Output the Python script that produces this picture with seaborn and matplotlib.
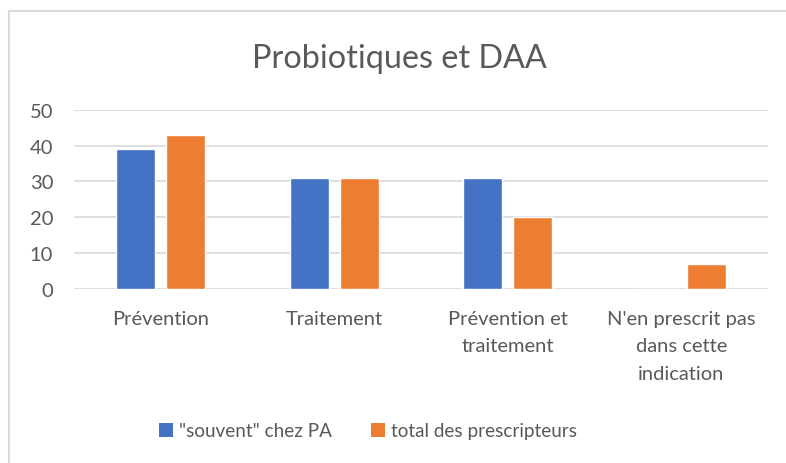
import matplotlib
matplotlib.use("Agg")
import matplotlib.pyplot as plt
from matplotlib.lines import Line2D
from matplotlib.patches import Patch
import seaborn as sns
import pandas as pd

categories = [
    "Prévention",
    "Traitement",
    "Prévention et\ntraitement",
    "N'en prescrit pas\ndans cette\nindication",
]
series_names = ['"souvent" chez PA', "total des prescripteurs"]
souvent_pa = [39, 31, 31, 0]
total_prescripteurs = [43, 31, 20, 7]
y_ticks = [0, 10, 20, 30, 40, 50]
colors = ["#4472C4", "#ED7D31"]
title = "Probiotiques et DAA"

df = pd.DataFrame({
    "categorie": categories * 2,
    "serie": [series_names[0]] * 4 + [series_names[1]] * 4,
    "valeur": souvent_pa + total_prescripteurs,
})

sns.set_theme(style="white")
plt.rcParams["font.family"] = ["Lato", "DejaVu Sans"]
text_color = "#595959"

W, H = 786, 464
fig = plt.figure(figsize=(W / 100, H / 100), dpi=100)
ax = fig.add_axes([74 / W, (H - 290) / H, 694 / W, (290 - 110.7) / H])

sns.barplot(data=df, x="categorie", y="valeur", hue="serie", order=categories,
            hue_order=series_names, palette=colors, width=0.576, gap=0.22,
            saturation=1, ax=ax, legend=False)

ax.set_ylim(0, 50)
ax.set_xlim(-0.5, len(categories) - 0.5)
ax.set_yticks(y_ticks)
ax.yaxis.grid(True, color="#d9d9d9", linewidth=1.2)
ax.set_axisbelow(True)
for s in ax.spines.values():
    s.set_visible(False)
ax.set_xlabel("")
ax.set_ylabel("")
ax.tick_params(axis="y", length=0, pad=15, labelsize=14.5, labelcolor=text_color)
ax.tick_params(axis="x", length=0, pad=15, labelsize=14.5, labelcolor=text_color)
for lbl in ax.get_xticklabels():
    lbl.set_multialignment("center")
    lbl.set_linespacing(1.75)

fig.text(399.5 / W, 1 - 68 / H, title, ha="center", va="baseline",
         fontsize=23.3, color=text_color)

handles = [Patch(facecolor=c, edgecolor="none") for c in colors]
leg = fig.legend(handles, series_names, loc="center",
                 bbox_to_anchor=(368 / W, 1 - 432 / H), ncol=2, frameon=False,
                 handlelength=0.75, handleheight=0.75, handletextpad=0.3,
                 columnspacing=2.1, fontsize=13.6)
for t in leg.get_texts():
    t.set_color(text_color)

# chart area outline (left and top edges)
fig.add_artist(Line2D([9 / W, 9 / W], [0, 1 - 12 / H], transform=fig.transFigure,
                      color="#d9d9d9", linewidth=1.5))
fig.add_artist(Line2D([9 / W, 1], [1 - 12 / H, 1 - 12 / H], transform=fig.transFigure,
                      color="#d9d9d9", linewidth=1.5))

fig.savefig("out.png", dpi=100, facecolor="white")
